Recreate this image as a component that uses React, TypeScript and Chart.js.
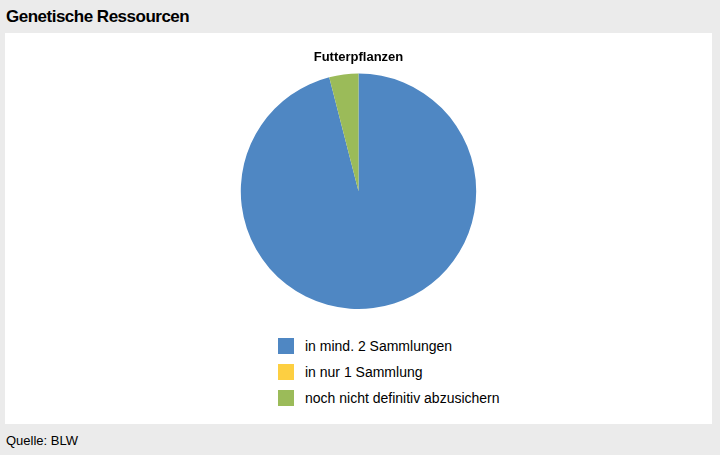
import React, { useEffect, useRef } from 'react';
import { Chart, registerables } from 'chart.js';

Chart.register(...registerables);

const categories = ['in mind. 2 Sammlungen', 'in nur 1 Sammlung', 'noch nicht definitiv abzusichern'];
const values = [96, 0, 4];
const colors = ['#4f87c3', '#fdcf41', '#9bbb59'];

const FONT = '"Liberation Sans", Arial, sans-serif';

const App: React.FC = () => {
  const chartRef = useRef<HTMLCanvasElement>(null);
  const chartInstance = useRef<Chart | null>(null);

  useEffect(() => {
    if (!chartRef.current) return;
    if (chartInstance.current) chartInstance.current.destroy();

    chartInstance.current = new Chart(chartRef.current, {
      type: 'pie',
      data: {
        labels: categories,
        datasets: [{
          data: values,
          backgroundColor: colors,
          borderWidth: 0
        }]
      },
      options: {
        animation: false,
        responsive: true,
        maintainAspectRatio: false,
        layout: { padding: { top: 0, bottom: 4 } },
        plugins: {
          legend: { display: false },
          tooltip: { enabled: false },
          title: {
            display: true,
            text: 'Futterpflanzen',
            color: '#000',
            font: { family: FONT, size: 13, weight: 'bold' },
            padding: { top: 17, bottom: 8 }
          }
        }
      }
    });

    return () => {
      if (chartInstance.current) {
        chartInstance.current.destroy();
        chartInstance.current = null;
      }
    };
  }, []);

  return (
    <div style={{ position: 'fixed', left: 0, top: 0, width: 720, height: 455, background: '#ebebeb', fontFamily: FONT, color: '#000' }}>
      <div style={{ position: 'absolute', left: 6, top: 5, fontSize: 17, fontWeight: 'bold', lineHeight: '24px', letterSpacing: -0.5 }}>
        Genetische Ressourcen
      </div>
      <div style={{ position: 'absolute', left: 5, top: 33, width: 707, height: 391, background: '#fff' }}>
        <div style={{ position: 'absolute', left: 0, top: 0, width: 707, height: 280 }}>
          <canvas ref={chartRef} />
        </div>
        <div style={{ position: 'absolute', left: 273, top: 300 }}>
          {categories.map((c, i) => (
            <div key={c} style={{ display: 'flex', alignItems: 'center', height: 26, fontSize: 14 }}>
              <span style={{ width: 16, height: 16, background: colors[i], marginRight: 11, display: 'inline-block' }} />
              <span>{c}</span>
            </div>
          ))}
        </div>
      </div>
      <div style={{ position: 'absolute', left: 6, top: 431, fontSize: 13, lineHeight: '20px' }}>
        Quelle: BLW
      </div>
    </div>
  );
};

export default App;
